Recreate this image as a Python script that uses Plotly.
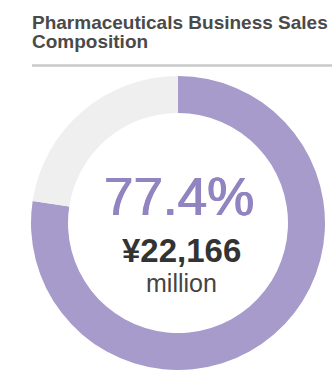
import plotly.graph_objects as go

# Sales composition of the pharmaceuticals business
segments = ["Pharmaceuticals", "Other"]
shares = [77.4, 22.6]
segment_colors = ["#a69bca", "#efefef"]

title_lines = ["Pharmaceuticals Business Sales", "Composition"]
share_label = "77.4%"
amount_label = "¥22,166"
unit_label = "million"

W, H = 332, 370


def px_x(x):
    return x / W


def px_y(y):
    return 1 - y / H


cx, r_out, r_in = 178, 147, 110
cy = H - r_out

fig = go.Figure(
    go.Pie(
        labels=segments,
        values=shares,
        marker=dict(colors=segment_colors, line=dict(width=0)),
        hole=r_in / r_out,
        sort=False,
        direction="clockwise",
        rotation=0,
        textinfo="none",
        hoverinfo="skip",
        showlegend=False,
        domain=dict(x=[px_x(cx - r_out), px_x(cx + r_out)], y=[0, px_y(cy - r_out)]),
    )
)

ts = 19
title_font = dict(family="Liberation Sans", size=ts, color="#4a4a4a")
share_color = "#9184c1"
annotations = [
    dict(text="<b>%s</b>" % title_lines[0], x=px_x(30), y=px_y(29 - 0.3465 * ts),
         xanchor="left", yanchor="middle", font=title_font),
    dict(text="<b>%s</b>" % title_lines[1], x=px_x(30), y=px_y(48 - 0.3465 * ts),
         xanchor="left", yanchor="middle", font=title_font),
    dict(text=share_label, x=px_x(179), y=px_y(215 - 0.3465 * 53),
         xanchor="center", yanchor="middle",
         font=dict(family="Liberation Sans", size=53, color=share_color,
                   shadow="0.6px 0 0 %s, -0.6px 0 0 %s" % (share_color, share_color))),
    dict(text="<b>%s</b>" % amount_label, x=px_x(181), y=px_y(262 - 0.3465 * 33),
         xanchor="center", yanchor="middle",
         font=dict(family="Liberation Sans", size=33, color="#333333")),
    dict(text=unit_label, x=px_x(181), y=px_y(292 - 0.3465 * 25),
         xanchor="center", yanchor="middle",
         font=dict(family="Liberation Sans", size=25, color="#444444")),
]
for a in annotations:
    a.update(xref="paper", yref="paper", showarrow=False)

fig.update_layout(
    width=W,
    height=H,
    margin=dict(l=0, r=0, t=0, b=0),
    paper_bgcolor="white",
    plot_bgcolor="white",
    annotations=annotations,
    shapes=[
        dict(type="line", xref="paper", yref="paper",
             x0=px_x(32), x1=1, y0=px_y(65.5), y1=px_y(65.5),
             line=dict(color="#c9c9c9", width=2.5)),
    ],
)

fig.write_html("out.html", config={"displayModeBar": False})
